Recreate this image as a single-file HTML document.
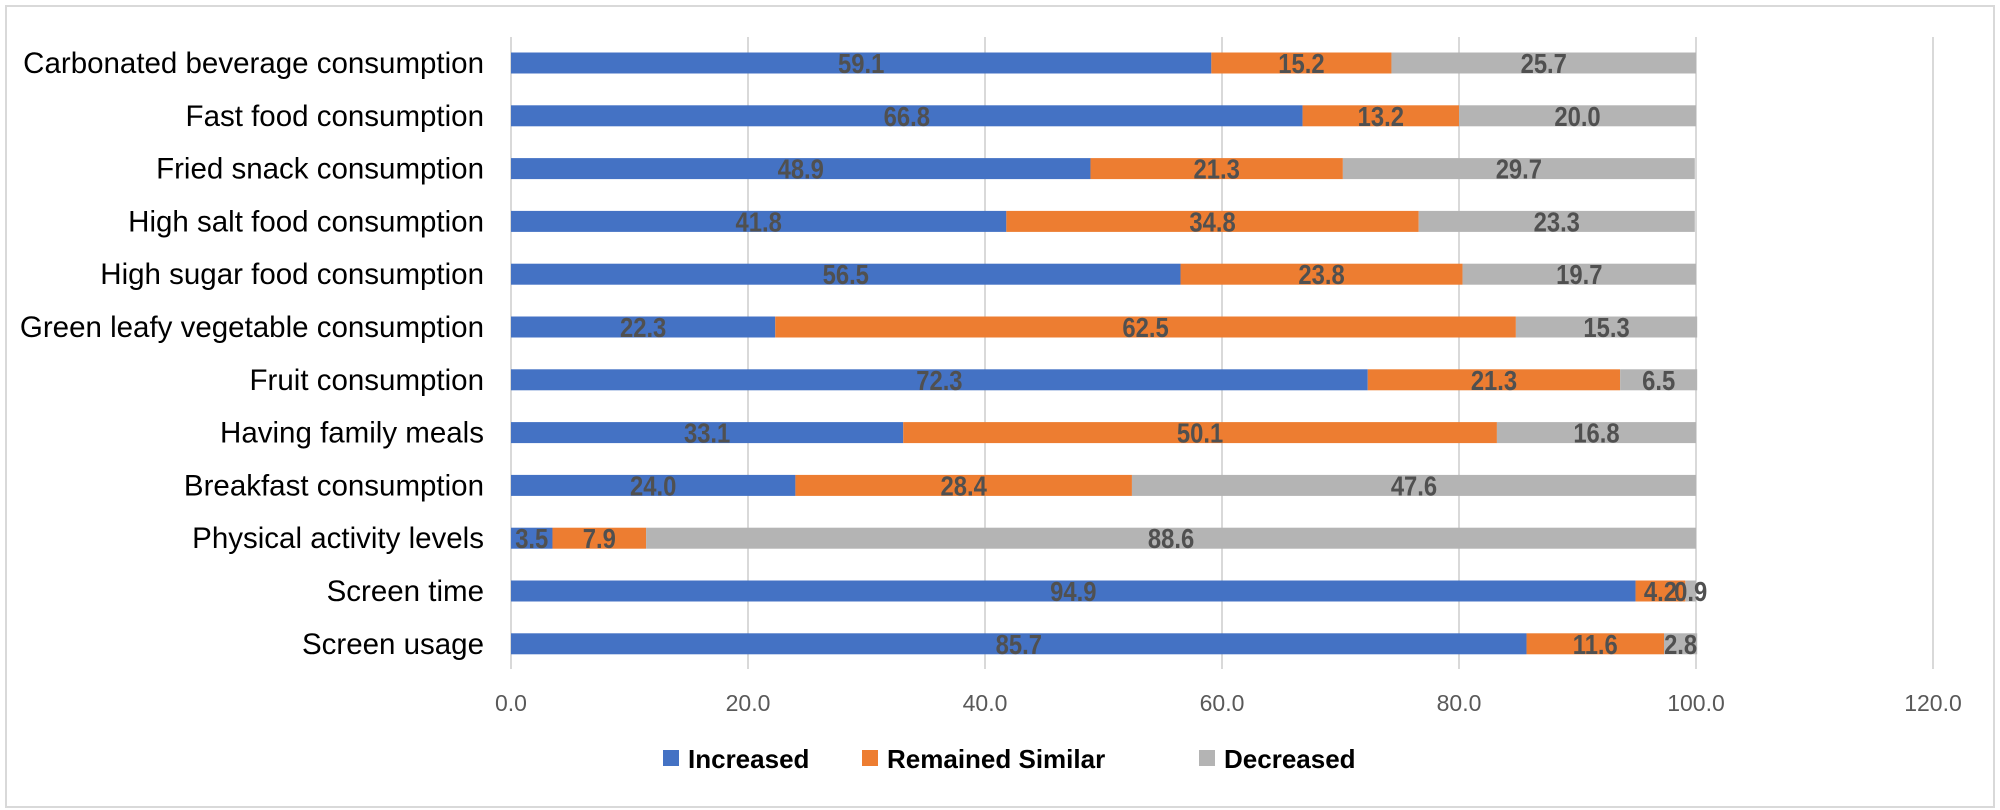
<!DOCTYPE html>
<html><head><meta charset="utf-8"><style>
html,body{margin:0;padding:0;background:#fff;}
svg{display:block;font-family:"Liberation Sans",Arial,sans-serif;}
</style></head><body>
<svg id="chart" width="2000" height="810" viewBox="0 0 2000 810">
<rect x="6" y="6" width="1988" height="801" fill="#fff" stroke="#d9d9d9" stroke-width="2"/>
<g id="grid"></g><g id="bars"></g><g id="labels"></g><g id="ticks"></g>
<g>
<g><rect x="663" y="750" width="16" height="16" fill="#4472C4"/><text x="688" y="768" font-size="26" font-weight="bold" fill="#000">Increased</text></g>
<g><rect x="862" y="750" width="16" height="16" fill="#ED7D31"/><text x="887" y="768" font-size="26" font-weight="bold" fill="#000">Remained Similar</text></g>
<g><rect x="1199" y="750" width="16" height="16" fill="#B4B4B4"/><text x="1224" y="768" font-size="26" font-weight="bold" fill="#000">Decreased</text></g>
</g>
</svg>
<script>
const categories=["Carbonated beverage consumption","Fast food consumption","Fried snack consumption","High salt food consumption","High sugar food consumption","Green leafy vegetable consumption","Fruit consumption","Having family meals","Breakfast consumption","Physical activity levels","Screen time","Screen usage"];
const increased=[59.1,66.8,48.9,41.8,56.5,22.3,72.3,33.1,24.0,3.5,94.9,85.7];
const remainedSimilar=[15.2,13.2,21.3,34.8,23.8,62.5,21.3,50.1,28.4,7.9,4.2,11.6];
const decreased=[25.7,20.0,29.7,23.3,19.7,15.3,6.5,16.8,47.6,88.6,0.9,2.8];
const tickValues=[0,20,40,60,80,100,120];
const NS="http://www.w3.org/2000/svg";
const x0=511,pxPerUnit=11.85;
function xs(v){return x0+v*pxPerUnit;}
function yc(i){return 63+i*52.8;}
const barH=21;
function mk(tag,attrs,parent){const e=document.createElementNS(NS,tag);for(const k in attrs)e.setAttribute(k,attrs[k]);parent.appendChild(e);return e;}
const grid=document.getElementById('grid'),bars=document.getElementById('bars'),labels=document.getElementById('labels'),ticks=document.getElementById('ticks');
tickValues.forEach(t=>{
  const l=mk('line',{x1:xs(t),x2:xs(t),y1:37,y2:669,stroke:'#d9d9d9','stroke-width':2},grid);
  
  
  const tx=mk('text',{x:xs(t),y:711,'font-size':23,fill:'#595959','text-anchor':'middle'},ticks);
  tx.textContent=t.toFixed(1);
  
  
});
const series=[[increased,'#4472C4','increased'],[remainedSimilar,'#ED7D31','remained-similar'],[decreased,'#B4B4B4','decreased']];
categories.forEach((c,i)=>{
  const cl=mk('text',{x:484,y:yc(i)+10,'font-size':29.5,fill:'#000','text-anchor':'end'},labels);
  cl.textContent=c;
  
  
  let acc=0;
  series.forEach(s=>{
    const v=s[0][i];
    const r=mk('rect',{x:xs(acc),y:yc(i)-barH/2,width:v*pxPerUnit,height:barH,fill:s[1]},bars);
    
    
    const t=mk('text',{x:0,y:0,transform:'translate('+xs(acc+v/2)+','+(yc(i)+10)+') scale(0.85,1)','font-size':28,'font-weight':'bold',fill:'#505050','text-anchor':'middle'},labels);
    t.textContent=v.toFixed(1);
    
    
    acc+=v;
  });
});
</script>
</body></html>
